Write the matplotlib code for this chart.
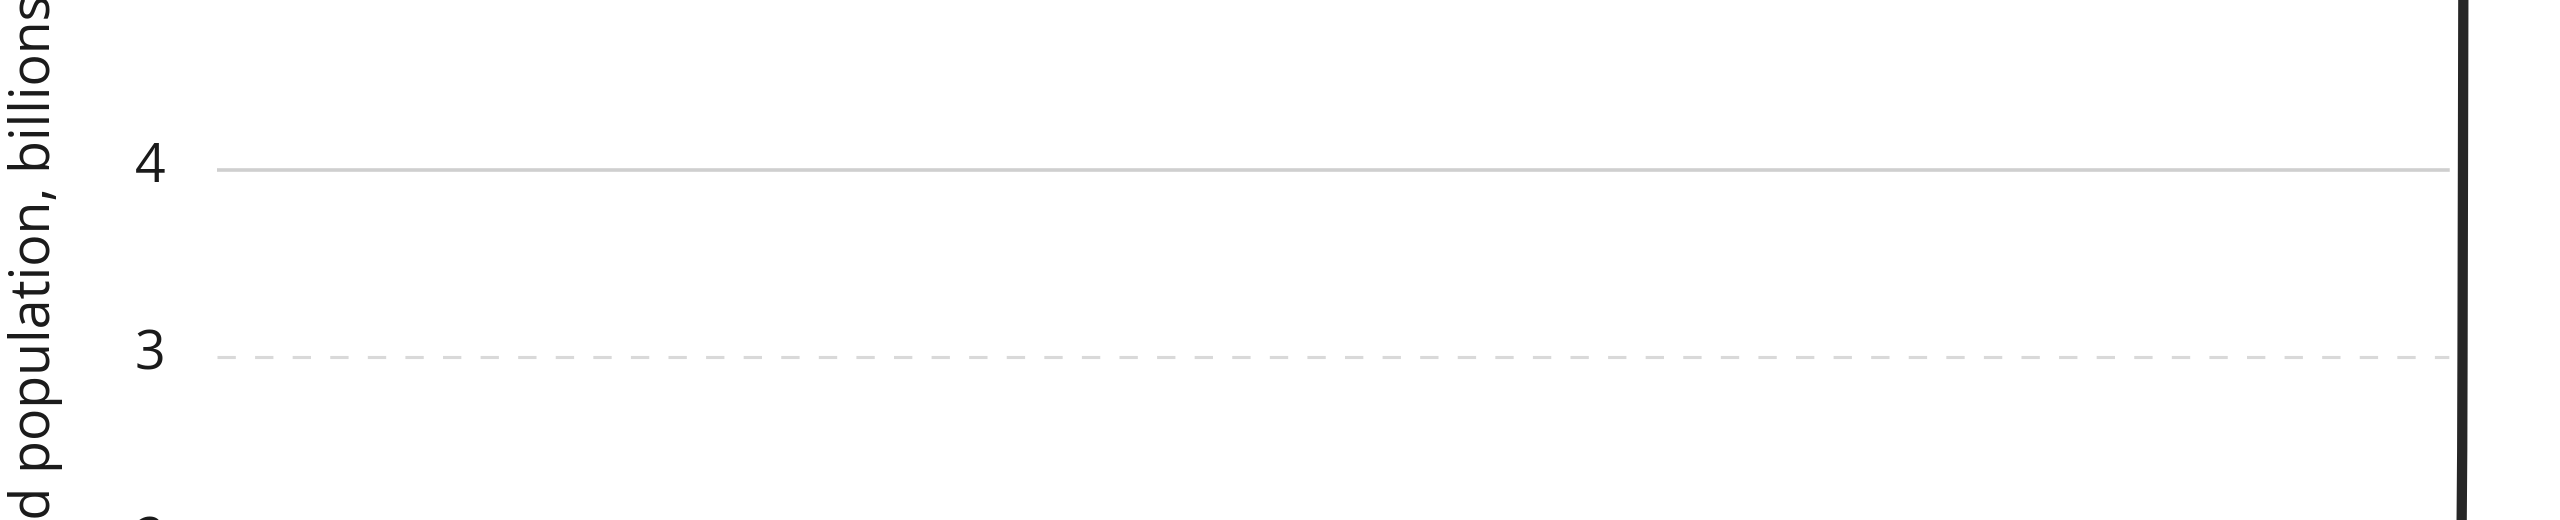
import matplotlib
matplotlib.use("Agg")
import matplotlib.pyplot as plt
import matplotlib.patheffects as pe
from matplotlib.transforms import ScaledTranslation

# ---- data (world population, billions) ----
years = [-10000, -5000, -1000, 1, 1000, 1500, 1700, 1800, 1850, 1900, 1927,
         1950, 1960, 1974, 1987, 1999, 2011, 2022]
population_bn = [0.004, 0.005, 0.05, 0.19, 0.295, 0.46, 0.6, 0.99, 1.26, 1.65,
                 2.0, 2.5, 3.0, 4.0, 5.0, 6.0, 7.0, 8.0]
y_ticks = [2, 3, 4, 5]
y_tick_labels = ["2", "3", "4", "5"]
y_label = "World population, billions"

FONT = ["Open Sans", "DejaVu Sans"]
FS = 38.6

W, H = 2560, 520
fig = plt.figure(figsize=(W / 100, H / 100), dpi=100)
fig.patch.set_facecolor("white")

# axes extends beyond the figure (the picture is a crop of a larger chart)
left_px, right_px = 217, 2470
top_px, bot_px = -110.5, 637.5
ax = fig.add_axes([left_px / W, (H - bot_px) / H,
                   (right_px - left_px) / W, (bot_px - top_px) / H])
ax.set_ylim(1.5, 5.5)
ax.set_xlim(-70000, 2200)
ax.patch.set_alpha(0)

for v in y_ticks:
    if v % 2 == 0:
        ax.axhline(v, color="#cfcfcf", lw=2.6, ls="-", zorder=1)
    else:
        ax.axhline(v, color="#d9d9d9", lw=2.2, ls=(0, (6, 6.3)), zorder=1)

ax.plot(years, population_bn, color="#262626", lw=7.4,
        solid_joinstyle="round", solid_capstyle="round", zorder=3,
        path_effects=[pe.Stroke(linewidth=19, foreground="white"), pe.Normal()])

ax.set_yticks(y_ticks)
ax.set_yticklabels(y_tick_labels, fontsize=FS, family=FONT, color="#1a1a1a")
ax.tick_params(axis="y", length=0, pad=37.4)
ax.tick_params(axis="x", bottom=False, labelbottom=False)
shift = ScaledTranslation(0, 0.09, fig.dpi_scale_trans)
for lab in ax.get_yticklabels():
    lab.set_transform(lab.get_transform() + shift)
for s in ax.spines.values():
    s.set_visible(False)

fig.text(63 / W, (H - 315.6) / H, y_label, rotation=90, ha="right", va="center",
         fontsize=FS, family=FONT, color="#1a1a1a")

fig.savefig("out.png", dpi=100, facecolor="white")
